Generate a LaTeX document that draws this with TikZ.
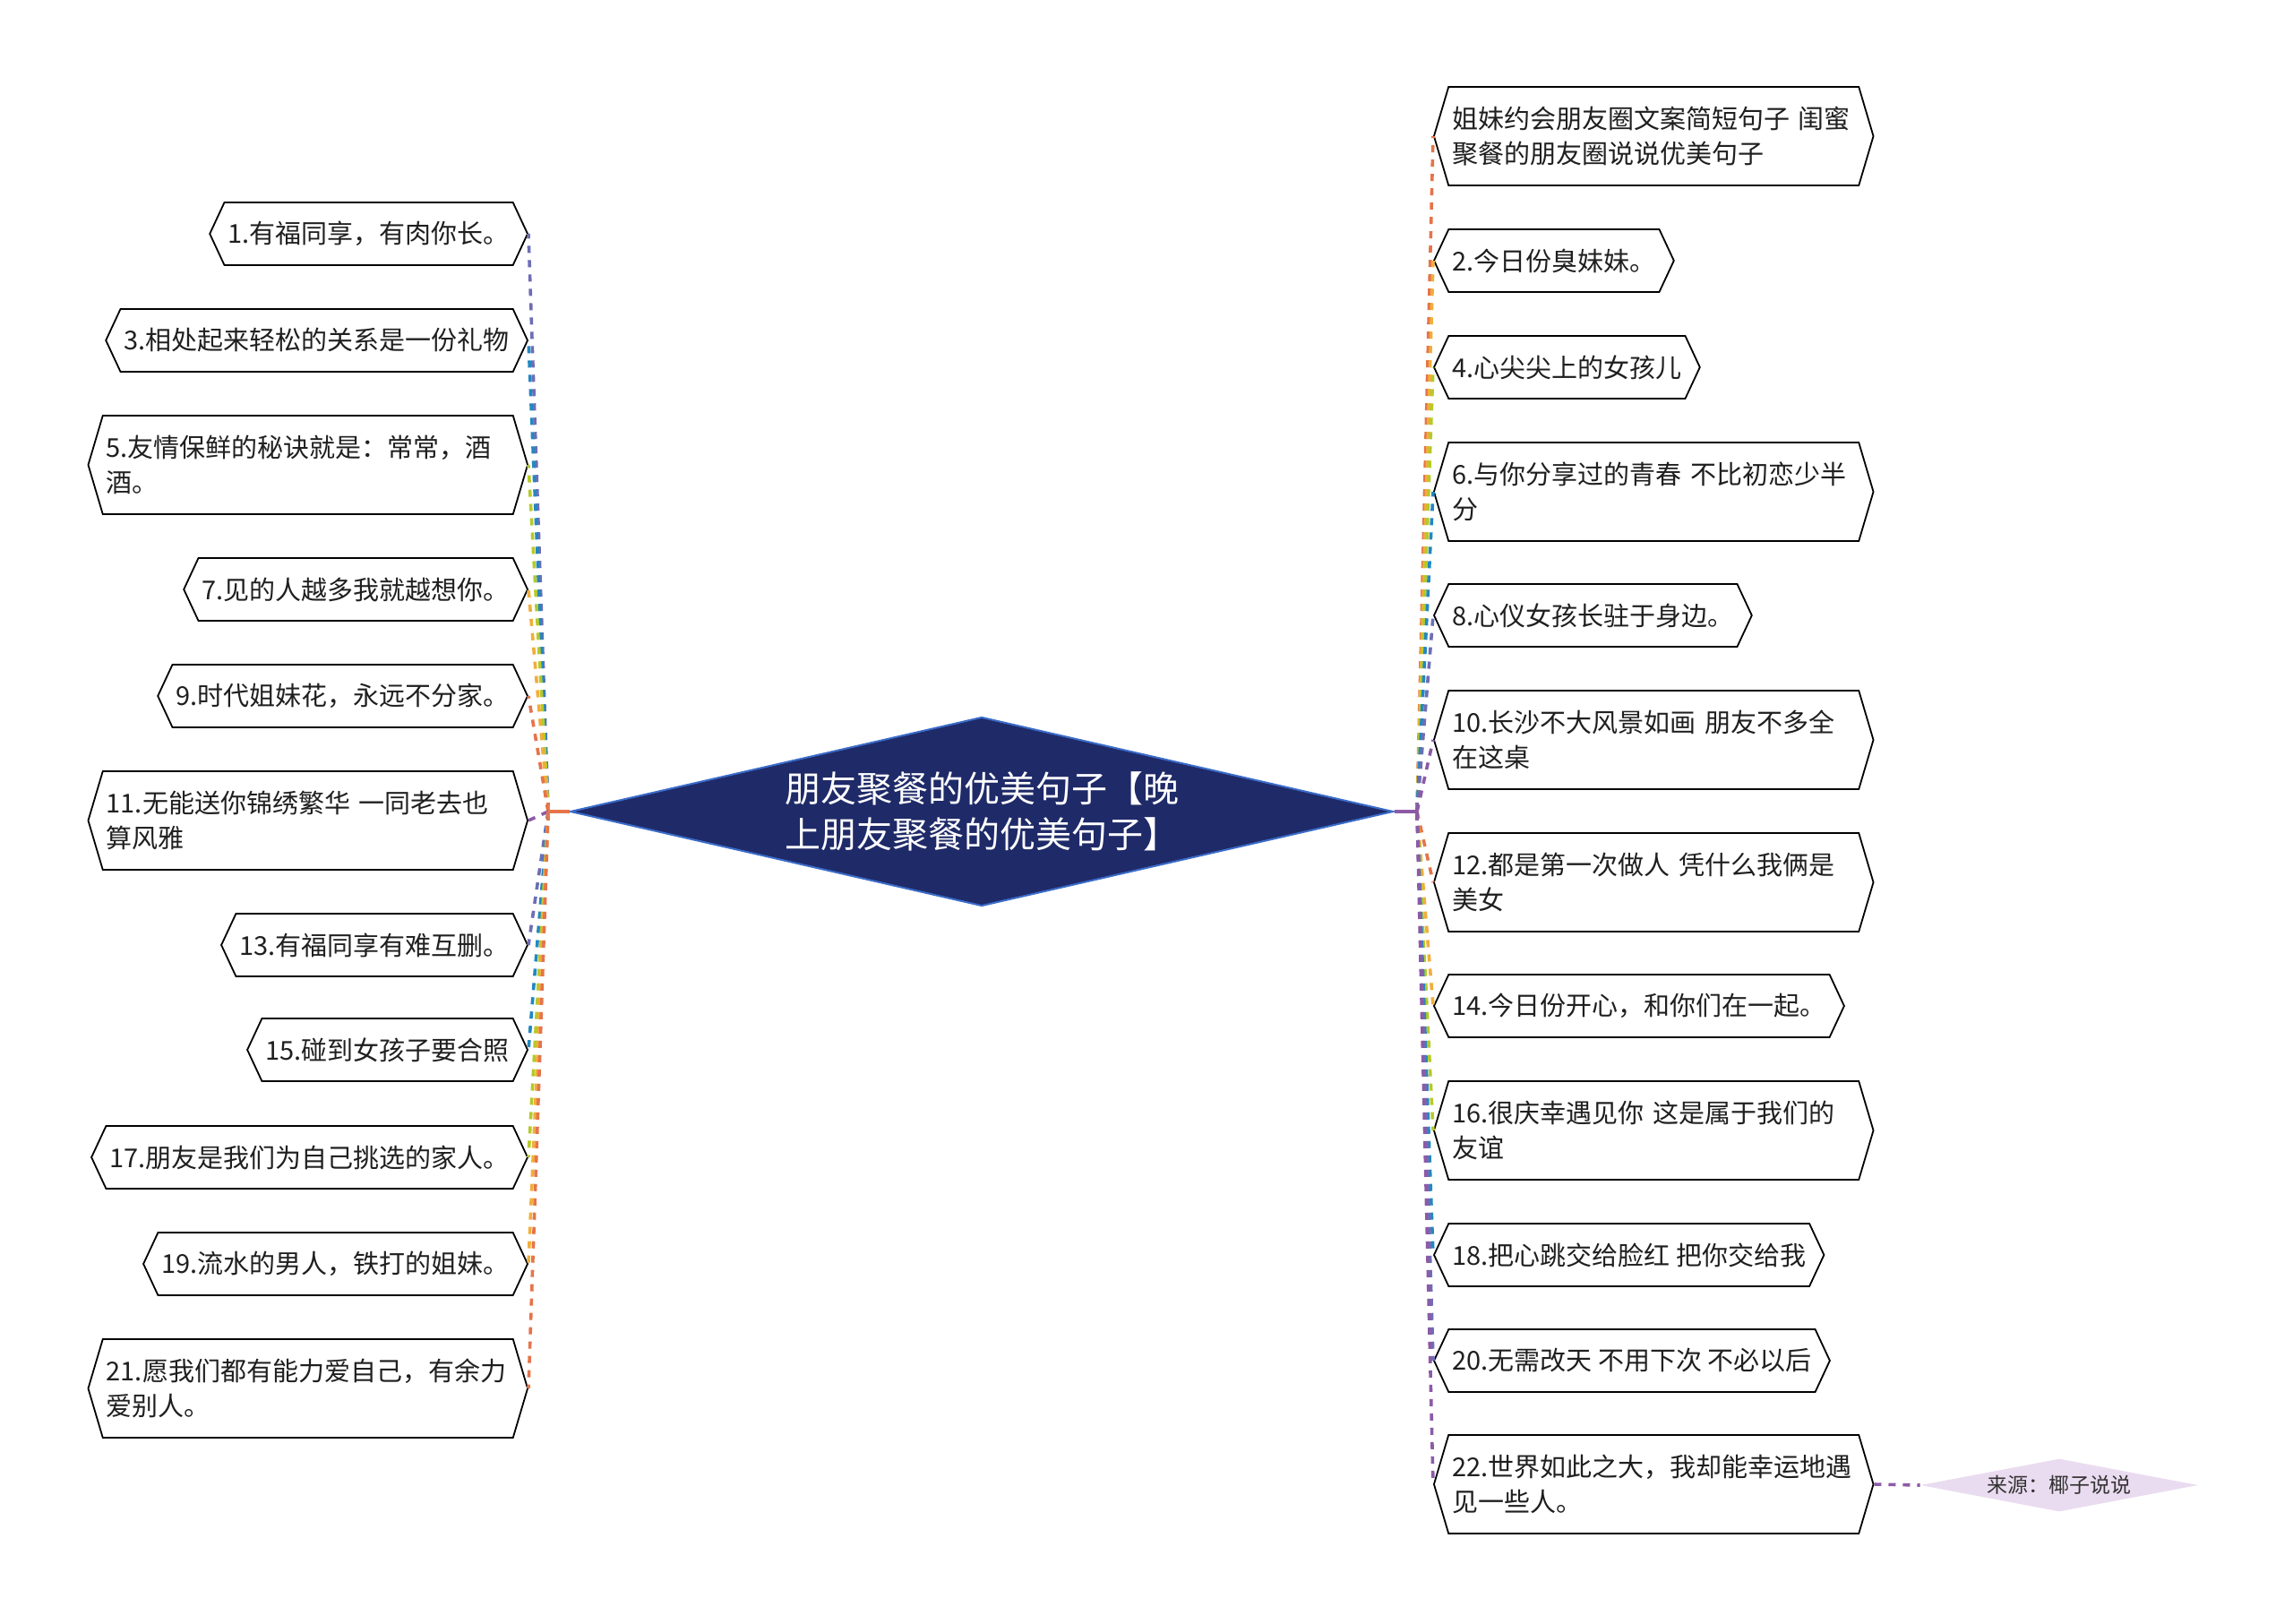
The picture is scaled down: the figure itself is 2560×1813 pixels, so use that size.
\documentclass[tikz,border=0pt]{standalone}
\usepackage{fontspec}
\setmainfont{Noto Sans CJK SC}
\usetikzlibrary{shapes.symbols,shapes.geometric}
\definecolor{cA}{HTML}{6E6DB5}
\definecolor{cB}{HTML}{2388C0}
\definecolor{cC}{HTML}{B6C92A}
\definecolor{cD}{HTML}{F0AE3A}
\definecolor{cE}{HTML}{E5744B}
\definecolor{cF}{HTML}{8C5BA6}
\definecolor{navy}{HTML}{1F2A68}
\definecolor{navyedge}{HTML}{3B6CC9}
\definecolor{lav}{HTML}{EADCF0}
\tikzset{
  hexnode/.style={shape=signal, signal to=east and west, draw=black, line width=0.9pt,
    fill=white, inner xsep=2pt, inner ysep=0pt, text=black!88,
    font=\fontsize{14.5pt}{19.5pt}\selectfont},
  onel/.style={hexnode, minimum height=35pt, signal pointer angle=130},
  twol/.style={hexnode, minimum height=55pt, signal pointer angle=147,
    text width=225pt, align=left},
  conn/.style={line width=1.8pt, dash pattern=on 4pt off 4pt},
  centerbox/.style={diamond, fill=navy, draw=navyedge, line width=1pt, text=white,
    align=center, font=\fontsize{20pt}{25.3pt}\selectfont, shape aspect=4.35,
    minimum width=459.5pt, minimum height=105.5pt, inner sep=0pt},
  srcbox/.style={diamond, fill=lav, text=black!80, align=center,
    font=\fontsize{11.5pt}{14pt}\selectfont, shape aspect=5.25,
    minimum width=155pt, minimum height=29.5pt, inner sep=0pt},
  trunk/.style={line width=1.8pt},
}
\begin{document}
\begin{tikzpicture}[x=0.5pt,y=-0.5pt]
\useasboundingbox (0,0) rectangle (2560,1813);

\node[centerbox] (D) at (1096,906) {朋友聚餐的优美句子【晚\\上朋友聚餐的优美句子】};

\coordinate (JL) at (612,906);
\coordinate (JR) at (1582,906);
\coordinate (JLt) at (612,896);
\coordinate (JLb) at (612,916);
\coordinate (JRt) at (1582,896);
\coordinate (JRb) at (1582,916);

% left nodes
\node[onel, anchor=east] (L1) at (590,261) {1.有福同享，有肉你长。};
\node[onel, anchor=east] (L3) at (590,380) {3.相处起来轻松的关系是一份礼物};
\node[twol, anchor=east] (L5) at (590,519) {5.友情保鲜的秘诀就是：常常，酒\\酒。};
\node[onel, anchor=east] (L7) at (590,658) {7.见的人越多我就越想你。};
\node[onel, anchor=east] (L9) at (590,777) {9.时代姐妹花，永远不分家。};
\node[twol, anchor=east] (L11) at (590,916) {11.无能送你锦绣繁华~一同老去也\\算风雅};
\node[onel, anchor=east] (L13) at (590,1055) {13.有福同享有难互删。};
\node[onel, anchor=east] (L15) at (590,1172) {15.碰到女孩子要合照};
\node[onel, anchor=east] (L17) at (590,1292) {17.朋友是我们为自己挑选的家人。};
\node[onel, anchor=east] (L19) at (590,1411) {19.流水的男人，铁打的姐妹。};
\node[twol, anchor=east] (L21) at (590,1550) {21.愿我们都有能力爱自己，有余力\\爱别人。};

% right nodes
\node[twol, anchor=west] (R0) at (1600,152) {姐妹约会朋友圈文案简短句子~闺蜜\\聚餐的朋友圈说说优美句子};
\node[onel, anchor=west] (R2) at (1600,291) {2.今日份臭妹妹。};
\node[onel, anchor=west] (R4) at (1600,410) {4.心尖尖上的女孩儿};
\node[twol, anchor=west] (R6) at (1600,549) {6.与你分享过的青春~不比初恋少半\\分};
\node[onel, anchor=west] (R8) at (1600,687) {8.心仪女孩长驻于身边。};
\node[twol, anchor=west] (R10) at (1600,826) {10.长沙不大风景如画~朋友不多全\\在这桌};
\node[twol, anchor=west] (R12) at (1600,985) {12.都是第一次做人~凭什么我俩是\\美女};
\node[onel, anchor=west] (R14) at (1600,1123) {14.今日份开心，和你们在一起。};
\node[twol, anchor=west] (R16) at (1600,1262) {16.很庆幸遇见你~这是属于我们的\\友谊};
\node[onel, anchor=west] (R18) at (1600,1401) {18.把心跳交给脸红 把你交给我};
\node[onel, anchor=west] (R20) at (1600,1519) {20.无需改天 不用下次 不必以后};
\node[twol, anchor=west] (R22) at (1600,1657) {22.世界如此之大，我却能幸运地遇\\见一些人。};

\node[srcbox] (S) at (2299,1658) {来源：椰子说说};

% trunks
\draw[trunk, cE] (D.west) -- (JL);
\draw[trunk, cE] (JLt) -- (JLb);
\draw[trunk, cF] (D.east) -- (JR);
\draw[trunk, cF] (JRt) -- (JRb);

% left connectors
\draw[conn, cA] (JL) -- (L1.east);
\draw[conn, cB] (JL) -- (L3.east);
\draw[conn, cC] (JL) -- (L5.east);
\draw[conn, cD] (JL) -- (L7.east);
\draw[conn, cE] (JL) -- (L9.east);
\draw[conn, cF] (JL) -- (L11.east);
\draw[conn, cA] (JL) -- (L13.east);
\draw[conn, cB] (JL) -- (L15.east);
\draw[conn, cC] (JL) -- (L17.east);
\draw[conn, cD] (JL) -- (L19.east);
\draw[conn, cE] (JL) -- (L21.east);

% right connectors
\draw[conn, cE] (JR) -- (R0.west);
\draw[conn, cD] (JR) -- (R2.west);
\draw[conn, cC] (JR) -- (R4.west);
\draw[conn, cB] (JR) -- (R6.west);
\draw[conn, cA] (JR) -- (R8.west);
\draw[conn, cF] (JR) -- (R10.west);
\draw[conn, cE] (JR) -- (R12.west);
\draw[conn, cD] (JR) -- (R14.west);
\draw[conn, cC] (JR) -- (R16.west);
\draw[conn, cB] (JR) -- (R18.west);
\draw[conn, cA] (JR) -- (R20.west);
\draw[conn, cF] (JR) -- (R22.west);

\draw[conn, cF] (R22.east) -- (S.west);
\end{tikzpicture}
\end{document}
